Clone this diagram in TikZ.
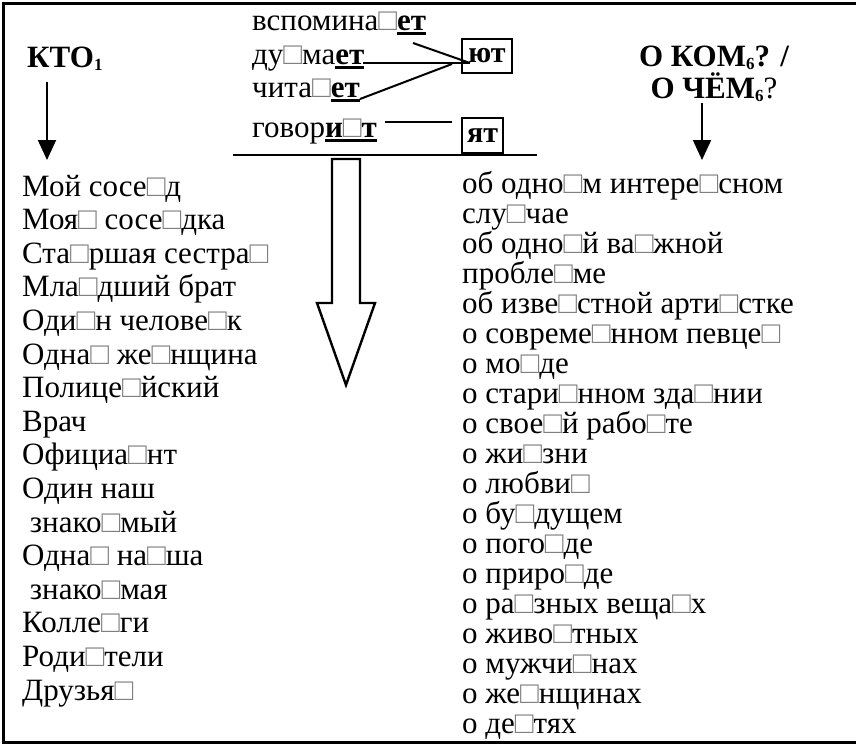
\documentclass[tikz,border=0pt]{standalone}
\usepackage{fontspec}
\setmainfont{Liberation Serif}
\usetikzlibrary{arrows.meta,positioning,calc}
% stress mark placeholder, marked ending, case index
\newcommand\gp{\textcolor{gray}{□}}
\newcommand\suffix[1]{\textbf{\setbox0=\hbox{#1}\rlap{\rule[-4.5pt]{\wd0}{2.6pt}}\box0}}
\newcommand\caseidx[1]{\raisebox{-3pt}{\fontsize{17}{17}\selectfont #1}}
\tikzset{
  item/.style={anchor=base west, inner sep=0pt, font=\fontsize{31}{34}\selectfont},
  question/.style={anchor=base, inner sep=0pt, font=\bfseries\fontsize{31}{34}\selectfont},
  endbox/.style={draw, line width=2pt, inner sep=0pt, font=\bfseries\fontsize{30}{30}\selectfont},
  arrow/.style={-{Triangle[length=20pt,width=18pt]}, line width=2pt},
  link/.style={line width=2pt},
  frame/.style={line width=3pt},
  hollow/.style={draw, line width=2.4pt, line join=miter}
}
\begin{document}
\begin{tikzpicture}[x=1pt, y=-1pt]
  \useasboundingbox (0,0) rectangle (856,745);
  \draw[frame] (856,3) -- (3,3) -- (3,742) -- (856,742);

  % questions
  \node[item, font=\bfseries\fontsize{31}{34}\selectfont] (kto) at (27,67) {КТО\caseidx{1}};
  \node[question] (kom) at (714,66) {О КОМ\caseidx{6}? /};
  \node[question] (chem) at (714,98) {О ЧЁМ\caseidx{6}\textmd{?}};
  \coordinate (kto-a) at (47,82);
  \coordinate (kto-b) at (47,160);
  \coordinate (chem-a) at (702,103);
  \coordinate (chem-b) at (702,160);
  \draw[arrow] (kto-a) -- (kto-b);
  \draw[arrow] (chem-a) -- (chem-b);

  % verbs
  \node[item] (v1) at (252,30) {вспомина\gp\suffix{ет}};
  \node[item] (v2) at (252,64) {ду\gp ма\suffix{ет}};
  \node[item] (v3) at (252,97) {чита\gp\suffix{ет}};
  \node[item] (v4) at (252,137) {говор\suffix{и\gp т}};
  \node[endbox, minimum width=50pt, minimum height=34pt] (yut) at (487,56) {ют};
  \node[endbox, minimum width=41pt, minimum height=35pt] (yat) at (482.5,135.5) {ят};

  \coordinate (meet) at (470,63);
  \coordinate (e1) at (413,43);
  \coordinate (e2) at (363,63);
  \coordinate (e3) at (360,99);
  \coordinate (e3b) at (452,64);
  \coordinate (e4) at (385,122);
  \coordinate (e4b) at (452,122);
  \draw[link] (e1) -- (meet);
  \draw[link] (e2) -- (meet);
  \draw[link] (e3) -- (e3b);
  \draw[link] (e4) -- (e4b);

  \coordinate (rule-a) at (233,155);
  \coordinate (rule-b) at (537,155);
  \draw[link] (rule-a) -- (rule-b);

  % big arrow
  \draw[hollow] (332,159) -- (360,159) -- (360,303) -- (375,303) -- (346,385)
    -- (317,303) -- (332,303) -- cycle;

  % who
  \foreach \t [count=\i] in {Мой сосе\gp д, Моя\gp{} сосе\gp дка, Ста\gp ршая сестра\gp,
      Мла\gp дший брат, Оди\gp н челове\gp к, Одна\gp{} же\gp нщина, Полице\gp йский,
      Врач, Официа\gp нт, Один наш, \ знако\gp мый, Одна\gp{} на\gp ша, \ знако\gp мая,
      Колле\gp ги, Роди\gp тели, Друзья\gp}
    \node[item] (who\i) at (22,{196+33.6*(\i-1)}) {\t};

  % about what
  \foreach \t [count=\i] in {об одно\gp м интере\gp сном, слу\gp чае, об одно\gp й ва\gp жной,
      пробле\gp ме, об изве\gp стной арти\gp стке, о совреме\gp нном певце\gp, о мо\gp де,
      о стари\gp нном зда\gp нии, о свое\gp й рабо\gp те, о жи\gp зни, о любви\gp,
      о бу\gp дущем, о пого\gp де, о приро\gp де, о ра\gp зных веща\gp х, о живо\gp тных,
      о мужчи\gp нах, о же\gp нщинах, о де\gp тях}
    \node[item] (what\i) at (462,{193+30*(\i-1)}) {\t};
\end{tikzpicture}
\end{document}
